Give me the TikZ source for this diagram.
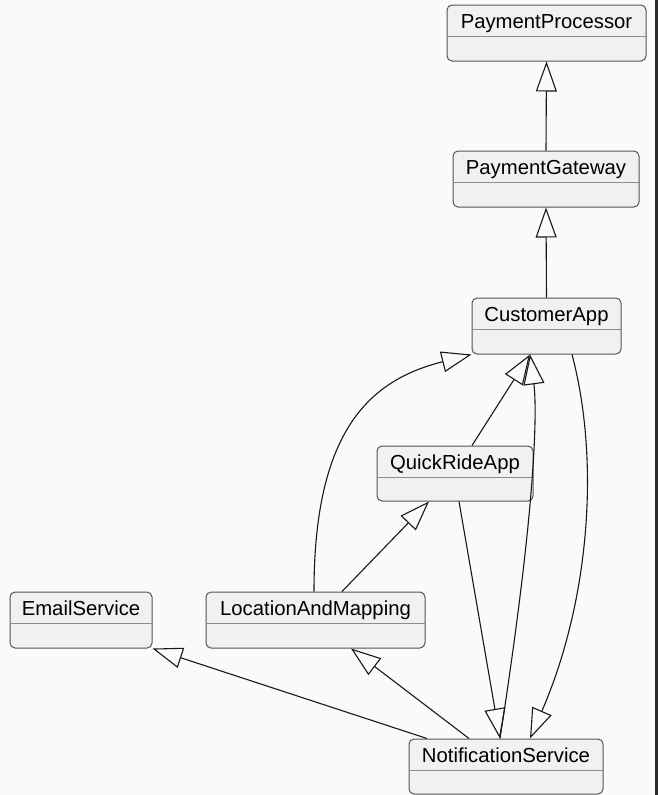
\documentclass[tikz,border=0pt]{standalone}
\usepackage{fontspec}
\setmainfont{Liberation Sans}
\usetikzlibrary{arrows.meta}
\definecolor{bgc}{HTML}{FAFAFA}
\definecolor{boxfill}{HTML}{F1F1F1}
\definecolor{boxline}{HTML}{555555}
\definecolor{divline}{HTML}{8C8C8C}
\definecolor{edgec}{HTML}{181818}
\definecolor{stripc}{HTML}{2B2B2B}
\tikzset{
  cls/.style={draw=boxline, fill=boxfill, line width=1pt, rounded corners=5pt, inner sep=0pt, minimum height=56pt},
  ttl/.style={anchor=base, inner sep=0pt, font=\fontsize{20.3}{24}\selectfont, text=black},
  divider/.style={draw=divline, line width=1pt},
  gen/.style={draw=edgec, line width=1.1pt, -{Triangle[open, length=30pt, width=21pt]}},
}
\begin{document}
\begin{tikzpicture}[x=1pt, y=-1pt]
\useasboundingbox (0,0) rectangle (658,795);
\fill[bgc] (0,0) rectangle (658,795);
\fill[stripc] (655,0) rectangle (658,795);

% boxes
\node[cls, minimum width=199pt] (pp) at (546.5,33) {};
\node[cls, minimum width=186pt] (pg) at (546,179) {};
\node[cls, minimum width=149pt] (ca) at (546.5,326) {};
\node[cls, minimum width=156pt, minimum height=55pt] (qr) at (455,473.5) {};
\node[cls, minimum width=142pt] (es) at (81,620) {};
\node[cls, minimum width=219pt] (lm) at (315.5,620) {};
\node[cls, minimum width=194pt, minimum height=55pt] (ns) at (506,766.5) {};

% titles
\node[ttl] (ppt) at ([yshift=-24pt]pp.north) {PaymentProcessor};
\node[ttl] (pgt) at ([yshift=-24pt]pg.north) {PaymentGateway};
\node[ttl] (cat) at ([yshift=-24pt]ca.north) {CustomerApp};
\node[ttl] (qrt) at ([yshift=-24pt]qr.north) {QuickRideApp};
\node[ttl] (est) at ([yshift=-24pt]es.north) {EmailService};
\node[ttl] (lmt) at ([yshift=-24pt]lm.north) {LocationAndMapping};
\node[ttl] (nst) at ([yshift=-24pt]ns.north) {NotificationService};

% dividers
\foreach \n in {pp,pg,ca,qr,es,lm,ns}{
  \draw[divider] ([xshift=0.5pt,yshift=-32pt]\n.north west) -- ([xshift=-0.5pt,yshift=-32pt]\n.north east);
}

% generalization edges
\draw[gen] (pg.north) -- (pp.south);
\draw[gen] (ca.north) -- (pg.south);
\draw[gen] ([xshift=-1.5pt]lm.north) .. controls (314,430) and (370,380) .. (ca.south west);
\draw[gen] ([xshift=17pt]qr.north) -- ([xshift=-16.5pt]ca.south);
\draw[gen] ([xshift=-6pt]ns.north) .. controls (540,480) and (536,400) .. ([xshift=-16.5pt]ca.south);
\draw[gen] ([xshift=25.5pt]ca.south) .. controls (600,460) and (590,600) .. ([xshift=24pt]ns.north);
\draw[gen] ([xshift=4pt]qr.south) -- ([xshift=-6pt]ns.north);
\draw[gen] ([xshift=26.5pt]lm.north) -- ([xshift=-26pt]qr.south);
\draw[gen] ([xshift=-37pt]ns.north) -- ([xshift=35.5pt]lm.south);
\draw[gen] ([xshift=-79pt]ns.north) -- (es.south east);
\end{tikzpicture}
\end{document}
